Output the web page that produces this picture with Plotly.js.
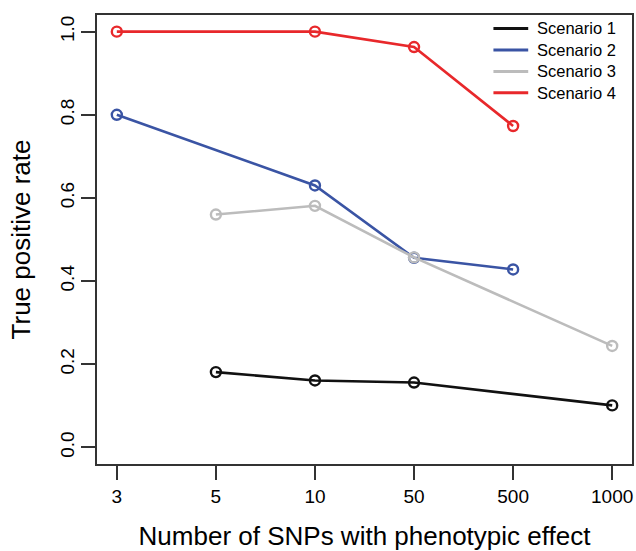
<!DOCTYPE html>
<html>
<head>
<meta charset="utf-8">
<script src="https://cdn.plot.ly/plotly-3.0.1.min.js"></script>
<style>html,body{margin:0;padding:0;background:#fff;}#chart{width:636px;height:551px;}</style>
</head>
<body>
<div id="chart"></div>
<script>
// Categories on the x axis (equally spaced)
const snpCounts = ['3', '5', '10', '50', '500', '1000'];

// Series
const scenarioNames = ['Scenario 1', 'Scenario 2', 'Scenario 3', 'Scenario 4'];
const scenarioColors = ['#111111', '#3a54a4', '#bcbcbc', '#e8282b'];

const s1x = ['5', '10', '50', '1000'];
const s1y = [0.181, 0.161, 0.156, 0.101];

const s2x = ['3', '10', '50', '500'];
const s2y = [0.800, 0.630, 0.456, 0.428];

const s3x = ['5', '10', '50', '1000'];
const s3y = [0.560, 0.581, 0.457, 0.244];

const s4x = ['3', '10', '50', '500'];
const s4y = [1.000, 1.000, 0.963, 0.773];

const yTicks = [0, 0.2, 0.4, 0.6, 0.8, 1.0];

const xs = [s1x, s2x, s3x, s4x];
const ys = [s1y, s2y, s3y, s4y];

const traces = xs.map((x, i) => ({
  x: x,
  y: ys[i],
  name: scenarioNames[i],
  type: 'scatter',
  mode: 'lines+markers',
  line: {color: scenarioColors[i], width: 2.6},
  marker: {symbol: 'circle-open', size: 10, color: scenarioColors[i], line: {width: 2.4, color: scenarioColors[i]}},
  showlegend: false,
  cliponaxis: false
}));

// Legend drawn as annotations + short segments (paper coordinates)
const legTop = 0.970, legStep = 0.0478;
const shapes = [];
const annotations = [];
scenarioNames.forEach((n, i) => {
  const yy = legTop - i * legStep;
  shapes.push({type: 'line', xref: 'paper', yref: 'paper', x0: 0.741, x1: 0.806, y0: yy, y1: yy,
    line: {color: scenarioColors[i], width: 3}});
  annotations.push({xref: 'paper', yref: 'paper', x: 0.821, y: yy, xanchor: 'left', yanchor: 'middle',
    text: n, showarrow: false, borderpad: 0,
    font: {family: 'Liberation Sans, Arial, sans-serif', size: 16.5, color: '#000'}});
});

const layout = {
  width: 636, height: 551,
  margin: {l: 97, r: 4, t: 15, b: 87},
  paper_bgcolor: '#fff', plot_bgcolor: '#fff',
  font: {family: 'Liberation Sans, Arial, sans-serif', color: '#000'},
  showlegend: false,
  xaxis: {
    type: 'category', categoryorder: 'array', categoryarray: snpCounts,
    range: [-0.2, 5.2],
    showgrid: false, zeroline: false,
    showline: true, mirror: true, linecolor: '#333', linewidth: 1.8,
    ticks: 'outside', ticklen: 14, tickwidth: 1.8, tickcolor: '#333',
    tickfont: {size: 19, color: '#000'},
    title: {text: 'Number of SNPs with phenotypic effect', font: {size: 26, color: '#000'}, standoff: 22}
  },
  yaxis: {
    range: [-0.04, 1.04],
    tickvals: yTicks, tickformat: '.1f',
    tickangle: -90,
    showgrid: false, zeroline: false,
    showline: true, mirror: true, linecolor: '#333', linewidth: 1.8,
    ticks: 'outside', ticklen: 14, tickwidth: 1.8, tickcolor: '#333',
    tickfont: {size: 19, color: '#000'},
    title: {text: 'True positive rate', font: {size: 26, color: '#000'}, standoff: 18}
  },
  shapes: shapes,
  annotations: annotations
};

Plotly.newPlot('chart', traces, layout, {displayModeBar: false, staticPlot: true});
</script>
</body>
</html>
